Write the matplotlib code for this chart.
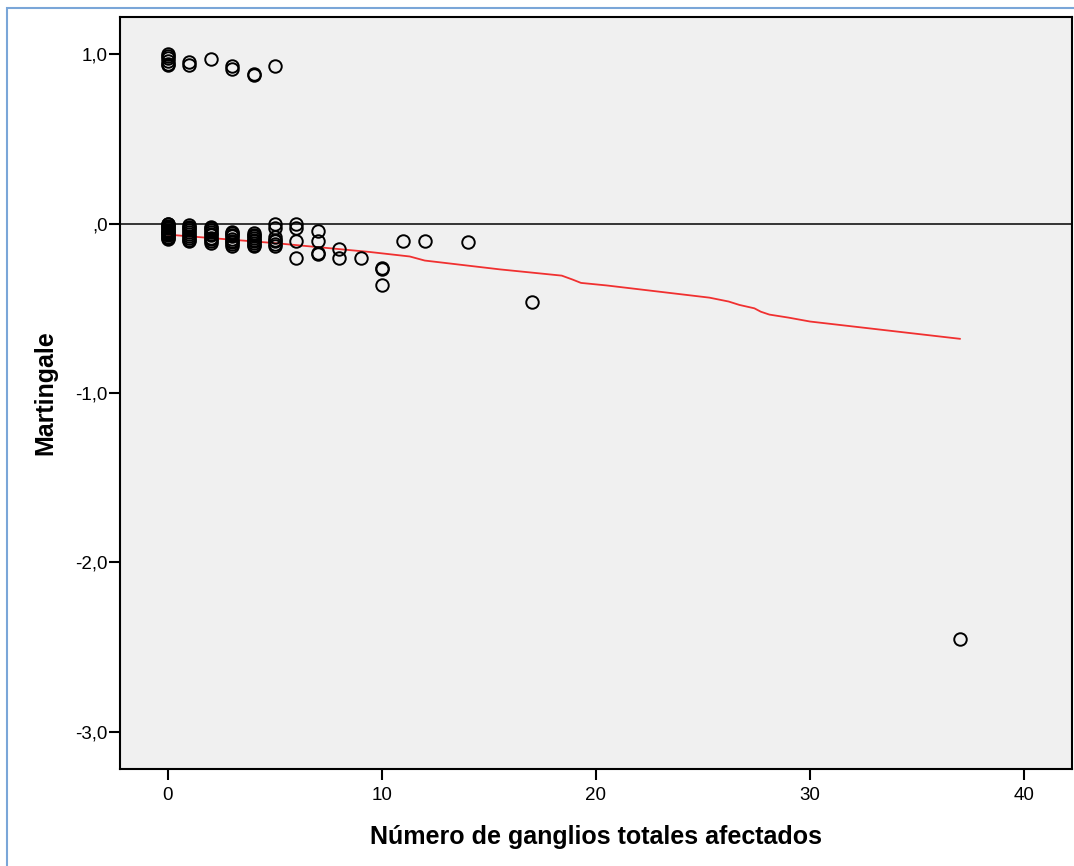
import matplotlib
matplotlib.use("Agg")
import matplotlib.pyplot as plt
from matplotlib.patches import Rectangle

# residuos de martingala por numero de ganglios afectados
ganglios = [0, 0, 0, 0, 0, 0, 1, 1, 2, 3, 3, 4, 4, 5,
            0, 0, 0, 0, 0, 0, 0, 0, 0, 0, 0, 0, 0, 0,
            1, 1, 1, 1, 1, 1, 1, 1, 1, 1,
            2, 2, 2, 2, 2, 2, 2, 2, 2, 2,
            3, 3, 3, 3, 3, 3, 3, 3, 3,
            4, 4, 4, 4, 4, 4, 4, 4, 4,
            5, 5, 5, 5, 5, 5, 5,
            6, 6, 6, 6,
            7, 7, 7, 7,
            8, 8, 9, 10, 10, 10, 11, 12, 14, 17, 37]
martingale = [1.0, 0.99, 0.975, 0.96, 0.945, 0.935, 0.955, 0.938, 0.97, 0.93, 0.915, 0.885, 0.875, 0.93,
              0.0, -0.005, -0.012, -0.02, -0.028, -0.035, -0.042, -0.05, -0.057, -0.064, -0.07, -0.077, -0.083, -0.088,
              -0.01, -0.018, -0.028, -0.04, -0.05, -0.062, -0.072, -0.083, -0.095, -0.105,
              -0.02, -0.028, -0.04, -0.05, -0.06, -0.07, -0.082, -0.093, -0.105, -0.115,
              -0.05, -0.058, -0.066, -0.075, -0.09, -0.1, -0.11, -0.12, -0.13,
              -0.055, -0.065, -0.072, -0.085, -0.095, -0.105, -0.115, -0.125, -0.135,
              -0.005, -0.025, -0.08, -0.095, -0.105, -0.12, -0.135,
              0.0, -0.025, -0.105, -0.205,
              -0.045, -0.105, -0.175, -0.18,
              -0.15, -0.2, -0.205, -0.26, -0.265, -0.36, -0.105, -0.105, -0.11, -0.46, -2.455]

# curva de ajuste (suavizado)
ajuste_x = [0, 5, 9.4, 11.3, 12, 15.5, 18.4, 18.9, 19.3, 20.5, 25.3, 26.2, 26.7, 27.4, 27.7, 28.1, 29, 30, 37]
ajuste_y = [-0.065, -0.115, -0.167, -0.194, -0.218, -0.27, -0.307, -0.33, -0.35, -0.365,
            -0.437, -0.46, -0.48, -0.5, -0.52, -0.537, -0.555, -0.578, -0.68]

xticks = [0, 10, 20, 30, 40]
yticks = [1.0, 0.0, -1.0, -2.0, -3.0]
ytick_labels = ["1,0", ",0", "-1,0", "-2,0", "-3,0"]

plt.rcParams['font.family'] = ['Liberation Sans', 'DejaVu Sans']

fig = plt.figure(figsize=(10.74, 8.66), dpi=100)
ax = fig.add_axes([120 / 1074, 97 / 866, 952 / 1074, 752 / 866])
ax.set_facecolor('#f0f0f0')

ax.axhline(0, color='black', lw=1.1, zorder=1)
ax.plot(ajuste_x, ajuste_y, color='#f03030', lw=1.3, zorder=2)
ax.plot(ganglios, martingale, linestyle='none', marker='o', ms=9,
        mfc='none', mec='black', mew=1.4, zorder=3)

ax.set_xlim(-2.24, 42.24)
ax.set_ylim(-3.22, 1.22)
ax.set_xticks(xticks)
ax.set_yticks(yticks)
ax.set_yticklabels(ytick_labels)

for s in ax.spines.values():
    s.set_linewidth(1.5)
ax.tick_params(direction='out', length=8, width=1.5, labelsize=13.5, colors='black')
ax.tick_params(axis='y', pad=1)
ax.tick_params(axis='x', pad=5)

ax.set_xlabel('Número de ganglios totales afectados', fontsize=18, fontweight='bold', labelpad=15)
ax.set_ylabel('Martingale', fontsize=18, fontweight='bold', labelpad=13)

# marco exterior azul
fig.add_artist(Rectangle((7 / 1074, -0.1), 1.2, (866 - 8) / 866 + 0.1,
                         transform=fig.transFigure, fill=False,
                         edgecolor='#7aa6d8', lw=1.5))

fig.savefig('out.png', dpi=100)
